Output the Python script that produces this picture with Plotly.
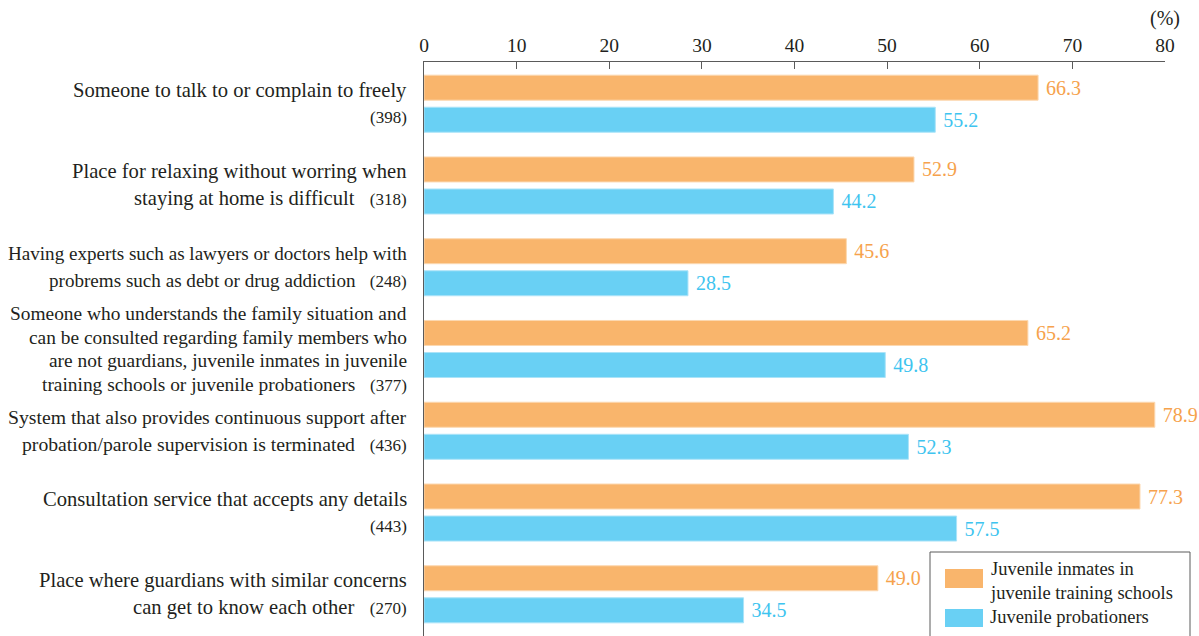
import plotly.graph_objects as go

# ---------------- data ----------------
categories = [
    "Someone to talk to or complain to freely",
    "Place for relaxing without worring when\nstaying at home is difficult",
    "Having experts such as lawyers or doctors help with\nprobrems such as debt or drug addiction",
    "Someone who understands the family situation and\ncan be consulted regarding family members who\nare not guardians, juvenile inmates in juvenile\ntraining schools or juvenile probationers",
    "System that also provides continuous support after\nprobation/parole supervision is terminated",
    "Consultation service that accepts any details",
    "Place where guardians with similar concerns\ncan get to know each other",
]
counts = [398, 318, 248, 377, 436, 443, 270]
inmates = [66.3, 52.9, 45.6, 65.2, 78.9, 77.3, 49.0]
probationers = [55.2, 44.2, 28.5, 49.8, 52.3, 57.5, 34.5]
series_names = ["Juvenile inmates in\njuvenile training schools", "Juvenile probationers"]
x_ticks = [0, 10, 20, 30, 40, 50, 60, 70, 80]
unit_label = "(%)"

# ---------------- style ----------------
W, H = 1199, 636
ML, MR, MT, MB = 424, 34, 62, 0
PW, PH = W - ML - MR, H - MT - MB
FONT = "Liberation Serif"
TXT = "#231f20"
AXC = "#5a5a5a"
ORANGE = "#f9b56c"
ORANGE_EDGE = "#fcd8b0"
ORANGE_TXT = "#f6a24c"
BLUE = "#69d0f4"
BLUE_EDGE = "#abe3f8"
BLUE_TXT = "#3ec4ef"
# label font sizes per group (source text is condensed on long lines)
label_sizes = [20.6, 20.6, 19.1, 19.4, 19.7, 20.6, 20.6]


def px_x(px):
    return (px - ML) / PW


def px_y(py):
    return (H - MB - py) / PH


fig = go.Figure()
fig.add_trace(go.Bar(
    y=categories, x=inmates, orientation="h", name=series_names[0].replace("\n", "<br>"),
    marker=dict(color=ORANGE, line=dict(color=ORANGE_EDGE, width=1)),
    texttemplate="\u00a0%{x:.1f}", textposition="outside", constraintext="none",
    textfont=dict(family=FONT, size=20, color=ORANGE_TXT), cliponaxis=False,
    showlegend=False,
))
fig.add_trace(go.Bar(
    y=categories, x=probationers, orientation="h", name=series_names[1],
    marker=dict(color=BLUE, line=dict(color=BLUE_EDGE, width=1)),
    texttemplate="\u00a0%{x:.1f}", textposition="outside", constraintext="none",
    textfont=dict(family=FONT, size=20, color=BLUE_TXT), cliponaxis=False,
    showlegend=False,
))

annotations = []
# category labels (right-aligned, with respondent counts)
for cat, n, fs in zip(categories, counts, label_sizes):
    lines = cat.split("\n")
    cnt = f"<span style='font-size:17px'>({n})</span>"
    if len(lines) == 1:
        lines = lines + [cnt]
    else:
        lines[-1] = lines[-1] + "&nbsp;&nbsp;&nbsp;" + cnt
    k = len(lines)
    step = 27 if k <= 2 else 23.5
    for j, ln in enumerate(lines):
        annotations.append(dict(
            text=ln, xref="paper", x=0, xanchor="right", xshift=-15,
            yref="y", y=cat, yanchor="middle", yshift=-(j - (k - 1) / 2) * step,
            showarrow=False, align="right",
            font=dict(family=FONT, size=fs, color=TXT),
        ))

annotations.append(dict(
    text=unit_label, xref="x", x=80, xanchor="center", yref="paper", y=1,
    yanchor="middle", yshift=44, showarrow=False,
    font=dict(family=FONT, size=20, color=TXT),
))

# manual legend box (extends past the bottom edge, as in the source)
shapes = [
    dict(type="rect", xref="paper", yref="paper",
         x0=px_x(930), x1=px_x(1190), y0=px_y(660), y1=px_y(552),
         line=dict(color=AXC, width=1), fillcolor="white", layer="above"),
    dict(type="rect", xref="paper", yref="paper",
         x0=px_x(945), x1=px_x(983), y0=px_y(588), y1=px_y(569),
         line=dict(width=0), fillcolor=ORANGE, layer="above"),
    dict(type="rect", xref="paper", yref="paper",
         x0=px_x(945), x1=px_x(983), y0=px_y(627), y1=px_y(609),
         line=dict(width=0), fillcolor=BLUE, layer="above"),
]
for name, py in zip(series_names, [581, 617]):
    annotations.append(dict(
        text=name.replace("\n", "<br>"), xref="paper", x=px_x(988), xanchor="left",
        yref="paper", y=px_y(py), yanchor="middle", showarrow=False, align="left",
        font=dict(family=FONT, size=18.5, color=TXT),
    ))

fig.update_layout(
    width=W, height=H,
    margin=dict(l=ML, r=MR, t=MT, b=MB, autoexpand=False),
    paper_bgcolor="white", plot_bgcolor="white",
    barmode="group", bargap=0.216, bargroupgap=0.22,
    font=dict(family=FONT, color=TXT),
    xaxis=dict(
        range=[0, 80], side="top", tickvals=x_ticks, ticktext=[str(t) for t in x_ticks],
        ticks="inside", ticklen=7, tickcolor=AXC, tickwidth=1,
        showline=True, linecolor=AXC, linewidth=1, mirror=False,
        showgrid=False, zeroline=False,
        tickfont=dict(family=FONT, size=19.5, color=TXT), ticklabelstandoff=1,
    ),
    yaxis=dict(
        type="category", categoryorder="array", categoryarray=categories,
        range=[6.51, -0.51], showticklabels=False, ticks="",
        showline=True, linecolor=AXC, linewidth=1, showgrid=False, zeroline=False,
    ),
    annotations=annotations, shapes=shapes,
)

fig.write_html(
    "out.html",
    config={"displayModeBar": False},
    post_script="document.body.style.margin='0';document.body.style.overflow='hidden';",
)
